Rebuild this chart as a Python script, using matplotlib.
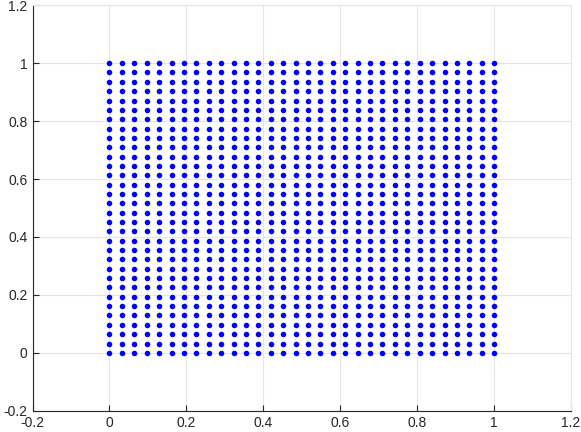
import numpy as np
import matplotlib
matplotlib.use("Agg")
import matplotlib.pyplot as plt

# 32x32 grid of points on [0,1]x[0,1]
grid_values = np.linspace(0, 1, 32)
xticks = [-0.2, 0, 0.2, 0.4, 0.6, 0.8, 1, 1.2]
yticks = [-0.2, 0, 0.2, 0.4, 0.6, 0.8, 1, 1.2]
xtick_labels = ["-0.2", "0", "0.2", "0.4", "0.6", "0.8", "1", "1.2"]
ytick_labels = ["-0.2", "0", "0.2", "0.4", "0.6", "0.8", "1", "1.2"]

X, Y = np.meshgrid(grid_values, grid_values)

plt.rcParams["font.family"] = ["Liberation Sans", "DejaVu Sans"]
fig = plt.figure(figsize=(5.81, 4.32), dpi=100)
ax = fig.add_axes([0.056, 0.049, 0.927, 0.939])
ax.plot(X.ravel(), Y.ravel(), linestyle="none", marker="o", markersize=4,
        color="#0000ff", markeredgewidth=0)
ax.set_xlim(-0.2, 1.2)
ax.set_ylim(-0.2, 1.2)
ax.set_xticks(xticks)
ax.set_xticklabels(xtick_labels)
ax.set_yticks(yticks)
ax.set_yticklabels(ytick_labels)
ax.grid(True, color="#e6e6e6", linewidth=0.8)
ax.set_axisbelow(True)
for s in ["top", "right"]:
    ax.spines[s].set_color("#e6e6e6")
for s in ["left", "bottom"]:
    ax.spines[s].set_color("#262626")
ax.tick_params(direction="in", length=4, labelsize=10, colors="#262626",
               top=False, right=False)
fig.savefig("out.png", dpi=100)
